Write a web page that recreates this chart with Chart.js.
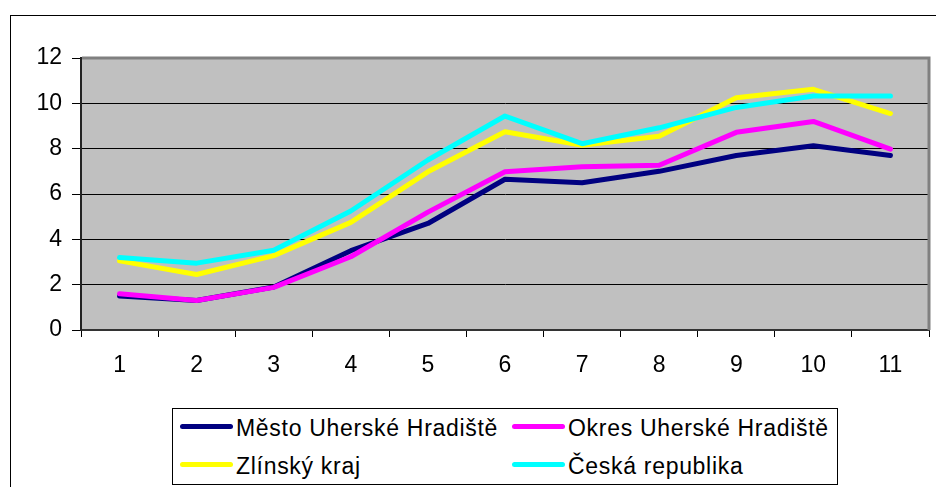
<!DOCTYPE html>
<html>
<head>
<meta charset="utf-8">
<script src="https://cdn.jsdelivr.net/npm/chart.js@4.4.1/dist/chart.umd.min.js"></script>
<style>
  html, body { margin: 0; padding: 0; background: #fff; overflow: hidden; }
  #wrap { position: relative; width: 936px; height: 487px; }
  #frame { position: absolute; left: 10px; top: 15px; width: 940px; height: 500px; border: 1px solid #000; box-sizing: border-box; }
  canvas { position: absolute; left: 0; top: 0; }
  #legend { position: absolute; left: 172px; top: 408px; width: 666px; height: 77px; border: 1px solid #000; box-sizing: border-box; background: #fff;
            font-family: "Liberation Sans", Arial, sans-serif; font-size: 23px; letter-spacing: 0.7px; color: #000; }
  .item { position: absolute; height: 28px; line-height: 28px; white-space: nowrap; }
  .swatch { position: absolute; left: 0; top: 10px; width: 53px; height: 5px; border-radius: 3px; }
  .label { position: absolute; left: 56px; top: 0; }
</style>
</head>
<body>
<div id="wrap">
  <div id="frame"></div>
  <canvas id="c" width="936" height="487"></canvas>
  <div id="legend"></div>
</div>
<script>
const categories = ["1","2","3","4","5","6","7","8","9","10","11"];
const seriesNames = ["Město Uherské Hradiště", "Okres Uherské Hradiště", "Zlínský kraj", "Česká republika"];
const mestoUH  = [1.5, 1.3, 1.9, 3.5, 4.7, 6.65, 6.5, 7.0, 7.7, 8.13, 7.7];
const okresUH  = [1.6, 1.3, 1.88, 3.23, 5.2, 6.98, 7.2, 7.27, 8.72, 9.2, 7.98];
const zlinsky  = [3.05, 2.45, 3.28, 4.75, 6.98, 8.75, 8.15, 8.55, 10.25, 10.62, 9.55];
const ceska    = [3.2, 2.95, 3.52, 5.25, 7.5, 9.44, 8.22, 8.92, 9.82, 10.32, 10.32];
const yTicks   = [0, 2, 4, 6, 8, 10, 12];
const seriesColors = ["#000080", "#FF00FF", "#FFFF00", "#00FFFF"];

const seriesValues = [mestoUH, okresUH, zlinsky, ceska];

const plotBg = {
  id: 'plotBg',
  beforeDraw(chart) {
    const a = chart.chartArea, ctx = chart.ctx;
    ctx.save();
    ctx.fillStyle = '#C0C0C0';
    ctx.fillRect(a.left, a.top, a.right - a.left, a.bottom - a.top);
    ctx.restore();
  },
  beforeDatasetsDraw(chart) {
    const a = chart.chartArea, ctx = chart.ctx;
    ctx.save();
    ctx.strokeStyle = '#808080';
    ctx.lineWidth = 3;
    ctx.beginPath();
    ctx.moveTo(a.left + 1, a.top);
    ctx.lineTo(a.right, a.top);
    ctx.lineTo(a.right, a.bottom);
    ctx.stroke();
    ctx.restore();
  }
};

const font = { family: '"Liberation Sans", Arial, sans-serif', size: 23 };

new Chart(document.getElementById('c'), {
  type: 'line',
  data: {
    labels: categories,
    datasets: seriesValues.map((vals, i) => ({
      label: seriesNames[i],
      data: vals,
      borderColor: seriesColors[i],
      backgroundColor: seriesColors[i],
      borderWidth: 5,
      pointRadius: 0,
      tension: 0,
      borderJoinStyle: 'round',
      borderCapStyle: 'round',
      order: seriesValues.length - 1 - i
    }))
  },
  options: {
    responsive: false,
    animation: false,
    devicePixelRatio: 1,
    layout: { padding: { top: 58, right: 7, bottom: 107, left: 0 } },
    plugins: { legend: { display: false }, tooltip: { enabled: false } },
    scales: {
      x: {
        type: 'category',
        offset: true,
        grid: { offset: true, drawOnChartArea: false, drawTicks: true, tickLength: 7, color: '#000', lineWidth: 1 },
        border: { display: true, color: '#333', width: 2 },
        ticks: { color: '#000', font: font, padding: 15, maxRotation: 0, autoSkip: false },
        afterFit(scale) { scale.height = 50; }
      },
      y: {
        min: 0, max: 12,
        afterBuildTicks(scale) { scale.ticks = yTicks.map(v => ({ value: v })); },
        grid: { color: '#000', lineWidth: 1, drawTicks: true, tickLength: 9 },
        border: { display: true, color: '#222', width: 2 },
        ticks: { color: '#000', font: font, padding: 10 },
        afterFit(scale) { scale.width = 81; }
      }
    }
  },
  plugins: [plotBg]
});

// HTML legend built from the series names/colours
const legend = document.getElementById('legend');
const pos = [[7, 5], [339, 5], [7, 43], [339, 43]];
seriesNames.forEach((name, i) => {
  const it = document.createElement('div');
  it.className = 'item';
  it.style.left = pos[i][0] + 'px';
  it.style.top = pos[i][1] + 'px';
  const sw = document.createElement('span');
  sw.className = 'swatch';
  sw.style.background = seriesColors[i];
  const lb = document.createElement('span');
  lb.className = 'label';
  lb.textContent = name;
  it.appendChild(sw); it.appendChild(lb);
  legend.appendChild(it);
});
</script>
</body>
</html>
